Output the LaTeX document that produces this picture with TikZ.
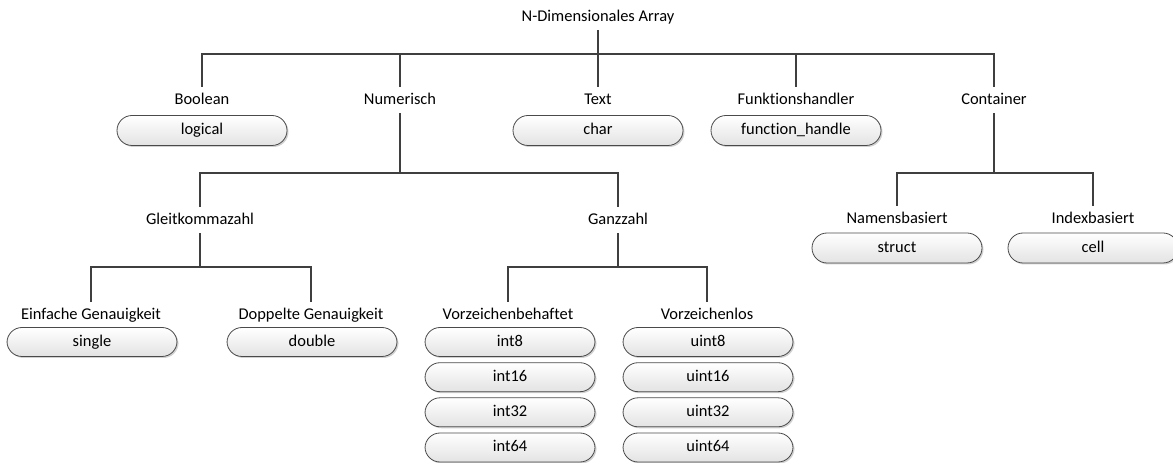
\documentclass[tikz,border=0pt]{standalone}
\usepackage{fontspec}
\setmainfont{Carlito}[Ligatures=NoCommon]
\usetikzlibrary{shadows}
\definecolor{linegray}{HTML}{3F3F3F}
\definecolor{boxedge}{HTML}{4A4A4A}
\tikzset{
  conn/.style={draw=linegray, line width=1.8bp},
  txt/.style={font=\fontsize{16.5}{19}\selectfont, text height=12bp, text depth=3.5bp},
  lbl/.style={txt, inner xsep=2bp, inner ysep=0bp, minimum height=26bp},
  typebox/.style={txt, draw=boxedge, line width=0.8bp, rounded corners=15bp,
    minimum width=170bp, minimum height=30bp, inner ysep=0bp,
    top color=white, bottom color=black!11,
    drop shadow={shadow xshift=1.5bp, shadow yshift=-1.5bp, opacity=0.18, fill=black}},
  smallbox/.style={typebox, minimum height=29bp}
}
\begin{document}
\begin{tikzpicture}[x=1bp, y=-1bp]
\useasboundingbox (0,0) rectangle (1173,463);

% root
\node[lbl] (root) at (598,17) {N-Dimensionales Array};
\coordinate (b1) at (598,54);

% first level
\node[lbl] (bool) at (202,100) {Boolean};
\node[lbl] (num)  at (400,100) {Numerisch};
\node[lbl] (text) at (598,100) {Text};
\node[lbl] (funk) at (796,100) {Funktionshandler};
\node[lbl] (cont) at (994,100) {Container};

\node[typebox] (logical) at (202,130.5) {logical};
\node[typebox] (char)    at (598,130.5) {char};
\node[typebox] (fh)      at (796,130.5) {function\_handle};

% numeric branch
\coordinate (b2) at (400,173);
\node[lbl] (gleit) at (200,220) {Gleitkommazahl};
\node[lbl] (ganz)  at (618,220) {Ganzzahl};

\coordinate (b3a) at (200,267);
\node[lbl] (einf) at (91,315)  {Einfache Genauigkeit};
\node[lbl] (dopp) at (311,315) {Doppelte Genauigkeit};
\node[smallbox] (single) at (92,342)  {single};
\node[smallbox] (double) at (312,342) {double};

\coordinate (b3b) at (618,267);
\node[lbl] (vzb) at (508,315) {Vorzeichenbehaftet};
\node[lbl] (vzl) at (707,315) {Vorzeichenlos};
\node[smallbox] (i8)  at (510,342)   {int8};
\node[smallbox] (i16) at (510,377.2) {int16};
\node[smallbox] (i32) at (510,412.3) {int32};
\node[smallbox] (i64) at (510,447.5) {int64};
\node[smallbox] (u8)  at (708,342)   {uint8};
\node[smallbox] (u16) at (708,377.2) {uint16};
\node[smallbox] (u32) at (708,412.3) {uint32};
\node[smallbox] (u64) at (708,447.5) {uint64};

% container branch
\coordinate (b2c) at (994,173);
\node[lbl] (nam) at (897,219)  {Namensbasiert};
\node[lbl] (idx) at (1093,219) {Indexbasiert};
\node[typebox] (struct) at (897,248)  {struct};
\node[typebox] (cell)   at (1093,248) {cell};

% connectors
\draw[conn] (root.south) -- (b1);
\foreach \c in {bool,num,text,funk,cont} \draw[conn] (b1) -| (\c.north);

\draw[conn] (num.south) -- (b2);
\draw[conn] (b2) -| (gleit.north);
\draw[conn] (b2) -| (ganz.north);

\draw[conn] (gleit.south) -- (b3a);
\draw[conn] (b3a) -| (einf.north);
\draw[conn] (b3a) -| (dopp.north);

\draw[conn] (ganz.south) -- (b3b);
\draw[conn] (b3b) -| (vzb.north);
\draw[conn] (b3b) -| (vzl.north);

\draw[conn] (cont.south) -- (b2c);
\draw[conn] (b2c) -| (nam.north);
\draw[conn] (b2c) -| (idx.north);
\end{tikzpicture}
\end{document}
